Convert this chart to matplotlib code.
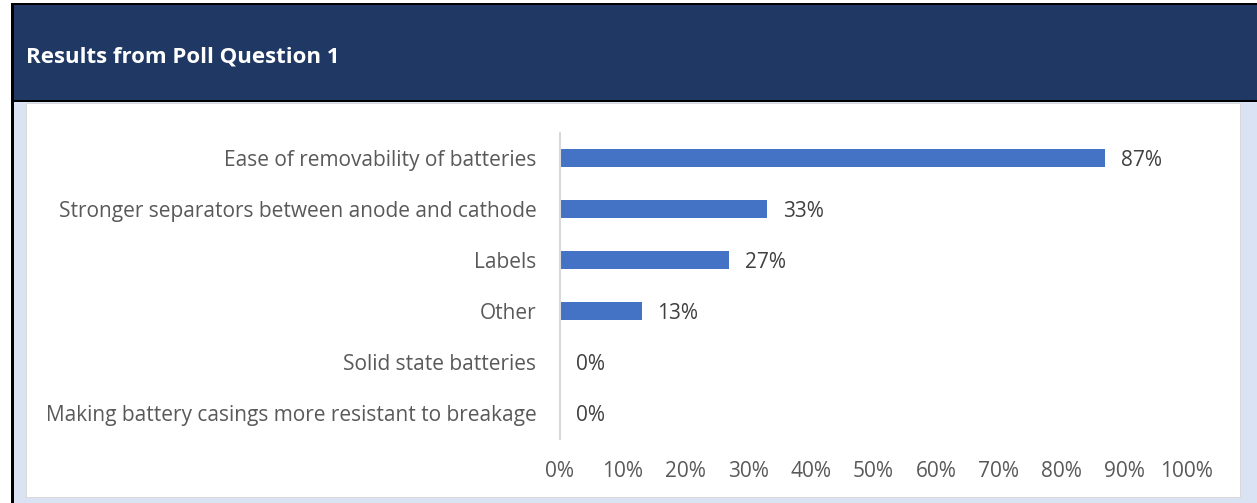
import matplotlib.pyplot as plt
from matplotlib.patches import Rectangle

plt.rcParams['font.family'] = ['Open Sans', 'DejaVu Sans']

# poll data, top to bottom
categories = ["Ease of removability of batteries",
              "Stronger separators between anode and cathode",
              "Labels",
              "Other",
              "Solid state batteries",
              "Making battery casings more resistant to breakage"]
percents = [87, 33, 27, 13, 0, 0]
xticks = [0, 10, 20, 30, 40, 50, 60, 70, 80, 90, 100]

W, H = 1257, 503
fig = plt.figure(figsize=(W / 100, H / 100), dpi=100)

def box(x0, y0, x1, y1, color):
    # pixel coords (top-left origin) -> figure fraction
    fig.patches.append(Rectangle((x0 / W, 1 - y1 / H), (x1 - x0) / W, (y1 - y0) / H,
                                 transform=fig.transFigure, color=color, zorder=-10, lw=0))

# frame: light blue background, white panel, navy header, black lines
box(12, 100, W, H, '#dae3f3')
box(26, 103, 1241, 498, '#d9d9d9')
box(27, 104, 1240, 497, 'white')
box(12, 4, W, 102, '#203864')
box(12, 3, W, 5, 'black')
box(12, 100, W, 102, 'black')
box(11, 3, 14, H, 'black')

fig.text(26 / W, 1 - 57 / H, "Results from Poll Question 1", color='white',
         fontsize=16, fontweight='bold', va='center', ha='left')

ax = fig.add_axes([560 / W, 1 - 438.5 / H, (1187 - 560) / W, 306 / H])
ax.set_facecolor('none')
y = list(range(len(categories)))
ax.barh(y, percents, height=0.35, color='#4472c4')
for yi, v in zip(y, percents):
    ax.text(v + 2.5, yi + 0.05, f"{v}%", va='center', ha='left', fontsize=15, color='#404040')

ax.set_ylim(len(categories) - 0.5, -0.5)
ax.set_xlim(0, 100)
ax.set_yticks(y)
ax.set_yticklabels(categories, fontsize=15, color='#595959')
ax.set_xticks(xticks)
ax.set_xticklabels([f"{t}%" for t in xticks], fontsize=15, color='#595959')
ax.tick_params(length=0)
ax.tick_params(axis='y', pad=17)
ax.tick_params(axis='x', pad=16)
for s in ['top', 'right', 'bottom']:
    ax.spines[s].set_visible(False)
ax.spines['left'].set_color('#d9d9d9')
ax.spines['left'].set_linewidth(1.5)

fig.savefig('out.png', dpi=100)
